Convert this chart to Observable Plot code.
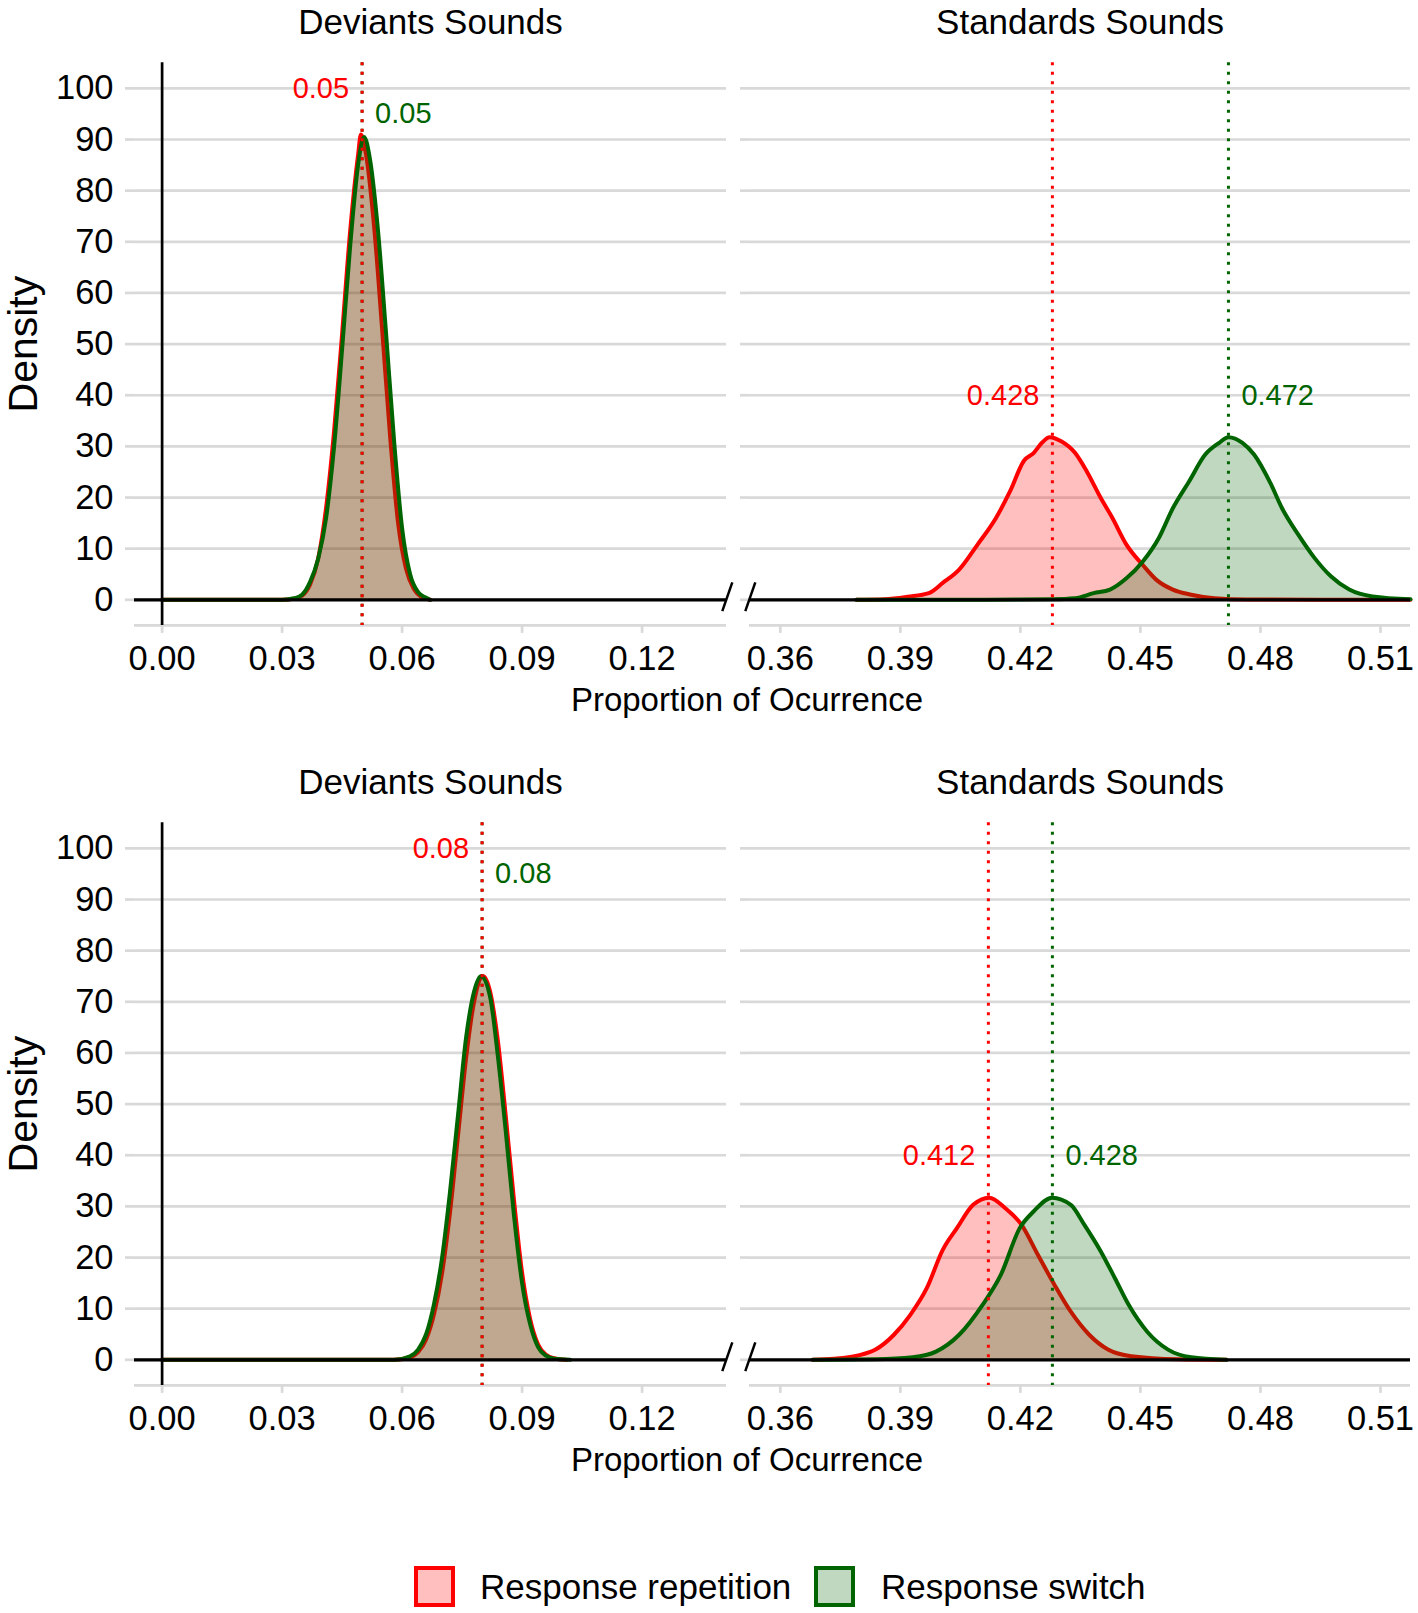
<!DOCTYPE html>
<html>
<head>
<meta charset="utf-8">
<script src="https://cdn.jsdelivr.net/npm/d3@7"></script>
<script src="https://cdn.jsdelivr.net/npm/@observablehq/plot@0.6"></script>
<style>
  body { margin: 0; background: #fff; font-family: "Liberation Sans", Arial, Helvetica, sans-serif; }
  #root { position: relative; width: 1418px; height: 1613px; overflow: hidden; background: #fff; }
  .panel { position: absolute; }
  .xtitle { position: absolute; font-size: 33px; color: #000; transform: translate(-50%, -50%); white-space: nowrap; }
  .key { position: absolute; width: 41px; height: 41px; box-sizing: border-box; border: 4px solid; }
  .ltext { position: absolute; font-size: 35px; color: #000; transform: translateY(-50%); white-space: nowrap; }
</style>
</head>
<body>
<div id="root"></div>
<script>
// ---------- data ----------
const groups = ["Response repetition", "Response switch"];
const panelTitles = ["Deviants Sounds", "Standards Sounds"];
const axisTitleX = "Proportion of Ocurrence";
const axisTitleY = "Density";
const yTicks = [0, 10, 20, 30, 40, 50, 60, 70, 80, 90, 100];
const xTicksDeviants = [0.00, 0.03, 0.06, 0.09, 0.12];
const xTicksStandards = [0.36, 0.39, 0.42, 0.45, 0.48, 0.51];
const xDomainDeviants = [-0.0069, 0.1411];
const xDomainStandards = [0.3523, 0.5175];
const yDomain = [-5, 105];

// means (dotted lines + labels): [repetition, switch]
const meansTopDeviants = [0.05, 0.05];
const meansTopStandards = [0.428, 0.472];
const meansBottomDeviants = [0.08, 0.08];
const meansBottomStandards = [0.412, 0.428];
const labelHeightDeviants = [100, 95];
const labelHeightStandards = [40, 40];

// density curves: [proportion, density]
const topDevRepetition = [[0,0],[0.03,0],[0.033,0.2],[0.035,0.8],[0.037,3],[0.039,8],[0.041,18],[0.043,33],[0.045,52],[0.047,72],[0.049,87],[0.0497,91],[0.051,87],[0.053,73],[0.055,53],[0.057,32],[0.059,15],[0.061,6],[0.063,2],[0.065,0.5],[0.067,0]];
const topDevSwitch = [[0,0],[0.03,0],[0.033,0.3],[0.035,1],[0.037,3.5],[0.039,8],[0.041,16],[0.043,30],[0.045,49],[0.047,69],[0.049,85],[0.0505,90.5],[0.052,86],[0.054,72],[0.056,52],[0.058,31],[0.06,14],[0.062,5],[0.064,1.5],[0.066,0.4],[0.067,0]];
const topStdRepetition = [[0.379,0],[0.3861,0.1],[0.3919,0.6],[0.3971,1.3],[0.4006,3.3],[0.4047,5.9],[0.4093,10.8],[0.4139,16],[0.4174,21.2],[0.4209,27.2],[0.4233,28.7],[0.4255,30.8],[0.4273,31.8],[0.4302,31],[0.4337,28.7],[0.4366,25.1],[0.4401,19.9],[0.443,16],[0.4465,10.8],[0.4506,6.8],[0.454,3.9],[0.4581,2],[0.4627,1],[0.4685,0.3],[0.4767,0.05],[0.5175,0]];
const topStdSwitch = [[0.379,0],[0.42,0.05],[0.4279,0.1],[0.4337,0.3],[0.4383,1.3],[0.4424,2],[0.4465,4.2],[0.4506,7.5],[0.4546,12.1],[0.4581,17.9],[0.4622,23.2],[0.4662,28.4],[0.4697,30.7],[0.472,31.8],[0.4755,30.7],[0.4784,28.4],[0.4825,22.8],[0.4854,17.9],[0.4895,12.7],[0.4935,8.2],[0.4976,4.6],[0.5022,2],[0.508,0.65],[0.5175,0.1]];
const bottomDevRepetition = [[0,0],[0.058,0],[0.062,0.5],[0.064,1.5],[0.066,4],[0.068,9],[0.07,17],[0.072,29],[0.074,44],[0.076,59],[0.078,70],[0.0803,75],[0.082,72],[0.084,62],[0.086,47],[0.088,31],[0.09,17],[0.092,8],[0.094,3],[0.096,1],[0.098,0.3],[0.101,0]];
const bottomDevSwitch = [[0,0],[0.058,0],[0.062,0.7],[0.064,2],[0.066,5],[0.068,11],[0.07,20],[0.072,33],[0.074,48],[0.076,63],[0.078,72],[0.0797,75],[0.082,71],[0.084,59],[0.086,44],[0.088,28],[0.09,15],[0.092,7],[0.094,2.5],[0.096,0.8],[0.098,0.2],[0.102,0]];
const bottomStdRepetition = [[0.3681,0],[0.3734,0.2],[0.3792,0.8],[0.3838,2],[0.3884,4.9],[0.3925,8.8],[0.3966,14],[0.4006,21.5],[0.4041,25.7],[0.4082,30.3],[0.4122,31.7],[0.4163,29.6],[0.4203,26.4],[0.4244,20.5],[0.4285,14.7],[0.4326,9.4],[0.4372,4.9],[0.4419,2],[0.4477,0.7],[0.4593,0.1],[0.4715,0]];
const bottomStdSwitch = [[0.3681,0],[0.3838,0.1],[0.3931,0.5],[0.3989,1.6],[0.4047,4.9],[0.4105,10.7],[0.4151,16.6],[0.4198,25.7],[0.4233,29],[0.4279,31.7],[0.4326,30.3],[0.436,26.4],[0.4401,21.2],[0.4436,16],[0.4471,10.7],[0.4517,5.5],[0.4569,2],[0.4627,0.5],[0.4715,0]];

// ---------- style ----------
const RED = "#FF0000";
const GREEN = "#006400";
const colors = [RED, GREEN];
const GRID = "#d9d9d9";
const FONT = '"Liberation Sans", Arial, Helvetica, sans-serif';
const FRAME_TOP = 62.3;
const FRAME_H = 562.6;
const MARGIN_BOTTOM = 60;

const root = document.getElementById("root");

function drawPanel({left, top, mLeft, width, domain, ticks, curves, means, labelY, title, isLeft}) {
  const marks = [
    Plot.gridY(yTicks, {stroke: GRID, strokeOpacity: 1, strokeWidth: 2.7}),
    Plot.axisY(yTicks, {tickSize: 9, tickPadding: 12, stroke: GRID, strokeWidth: 2.7, fill: "black",
      fontSize: 34.5, tickFormat: isLeft ? (d) => String(d) : () => "", label: null}),
    Plot.ruleY([-5], {stroke: GRID, strokeWidth: 2.7}),
    Plot.axisX(ticks, {tickSize: 8, tickPadding: 12, stroke: GRID, strokeWidth: 2.7, fill: "black",
      fontSize: 34.5, tickFormat: d3.format(".2f"), label: null})
  ];
  curves.forEach((c, i) => {
    marks.push(Plot.areaY(c, {x: (d) => d[0], y: (d) => d[1], fill: colors[i], fillOpacity: 0.25, curve: "monotone-x"}));
    marks.push(Plot.line(c, {x: (d) => d[0], y: (d) => d[1], stroke: colors[i], strokeWidth: 4, curve: "monotone-x"}));
  });
  marks.push(Plot.ruleY([0], {stroke: "black", strokeWidth: 3.3}));
  if (isLeft) marks.push(Plot.ruleX([0], {stroke: "black", strokeWidth: 2.7}));
  // dotted mean lines: switch first, repetition on top
  marks.push(Plot.ruleX([means[1]], {stroke: GREEN, strokeWidth: 3, strokeDasharray: "3,6.5"}));
  marks.push(Plot.ruleX([means[0]], {stroke: RED, strokeWidth: 3, strokeDasharray: "3,6.5"}));
  const lab = means.map((m, i) => ({x: m, y: labelY[i], g: i}));
  marks.push(Plot.text(lab.filter((d) => d.g === 0), {x: "x", y: "y", text: (d) => String(d.x), dx: -13, textAnchor: "end", fill: RED, fontSize: 29}));
  marks.push(Plot.text(lab.filter((d) => d.g === 1), {x: "x", y: "y", text: (d) => String(d.x), dx: 13, textAnchor: "start", fill: GREEN, fontSize: 29}));
  // facet title
  marks.push(Plot.text([title], {text: (d) => d, frameAnchor: "top", lineAnchor: "middle", dy: 22 - FRAME_TOP, fontSize: 35, fill: "black"}));
  if (isLeft) {
    marks.push(Plot.text([axisTitleY], {text: (d) => d, frameAnchor: "left", textAnchor: "middle", lineAnchor: "middle",
      dx: 23 - mLeft, rotate: -90, fontSize: 41, fill: "black"}));
  }
  // axis break mark
  const edge = isLeft ? domain[1] + 0.0002 : domain[0] + 0.0002;
  marks.push(Plot.link([edge], {x1: (d) => d + 0.00125, x2: (d) => d - 0.00125, y1: () => 3.4, y2: () => -2.2, stroke: "black", strokeWidth: 2.5}));

  const svg = Plot.plot({
    width, height: FRAME_TOP + FRAME_H + MARGIN_BOTTOM,
    marginLeft: mLeft, marginRight: 0, marginTop: FRAME_TOP, marginBottom: MARGIN_BOTTOM,
    x: {domain, label: null, axis: null},
    y: {domain: yDomain, label: null, axis: null},
    style: {background: "transparent", overflow: "visible", fontFamily: FONT, color: "black"},
    marks
  });
  const div = document.createElement("div");
  div.className = "panel";
  div.style.left = left + "px";
  div.style.top = top + "px";
  div.appendChild(svg);
  root.appendChild(div);
}

const rows = [
  {top: 0, dev: [topDevRepetition, topDevSwitch], std: [topStdRepetition, topStdSwitch], mDev: meansTopDeviants, mStd: meansTopStandards},
  {top: 760, dev: [bottomDevRepetition, bottomDevSwitch], std: [bottomStdRepetition, bottomStdSwitch], mDev: meansBottomDeviants, mStd: meansBottomStandards}
];

rows.forEach((r) => {
  drawPanel({left: 0, top: r.top, mLeft: 134, width: 726, domain: xDomainDeviants, ticks: xTicksDeviants,
    curves: r.dev, means: r.mDev, labelY: labelHeightDeviants, title: panelTitles[0], isLeft: true});
  drawPanel({left: 729, top: r.top, mLeft: 20, width: 681, domain: xDomainStandards, ticks: xTicksStandards,
    curves: r.std, means: r.mStd, labelY: labelHeightStandards, title: panelTitles[1], isLeft: false});
  const t = document.createElement("div");
  t.className = "xtitle";
  t.textContent = axisTitleX;
  t.style.left = "747px";
  t.style.top = (r.top + 699.5) + "px";
  root.appendChild(t);
});

// legend
const legendKeys = [{x: 414, tx: 480}, {x: 814, tx: 881}];
groups.forEach((g, i) => {
  const k = document.createElement("div");
  k.className = "key";
  k.style.left = legendKeys[i].x + "px";
  k.style.top = "1566px";
  k.style.borderColor = colors[i];
  k.style.background = i === 0 ? "rgba(255,0,0,0.25)" : "rgba(0,100,0,0.25)";
  root.appendChild(k);
  const t = document.createElement("div");
  t.className = "ltext";
  t.textContent = g;
  t.style.left = legendKeys[i].tx + "px";
  t.style.top = "1586.5px";
  root.appendChild(t);
});
</script>
</body>
</html>
